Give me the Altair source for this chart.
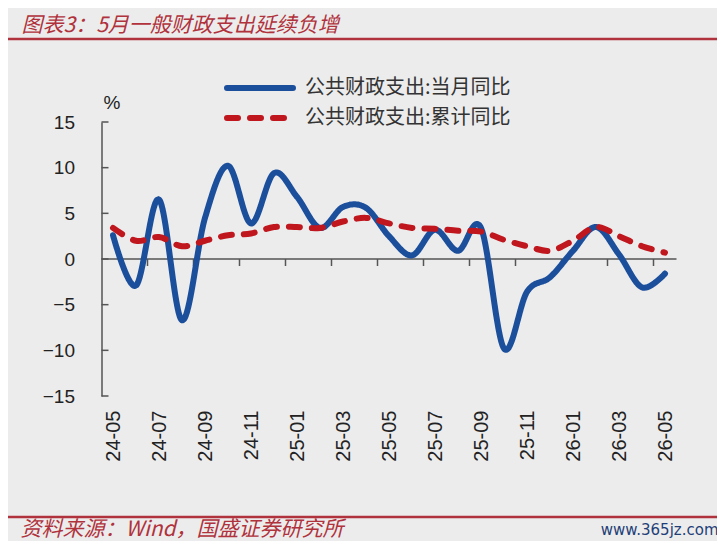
import json
import altair as alt
import pandas as pd

# ---------------- data ----------------
months = ["24-05", "24-06", "24-07", "24-08", "24-09", "24-10", "24-11", "24-12",
          "25-01", "25-02", "25-03", "25-04", "25-05", "25-06", "25-07", "25-08",
          "25-09", "25-10", "25-11", "25-12", "26-01", "26-02", "26-03", "26-04", "26-05"]
monthly = [2.6, -2.9, 6.5, -6.7, 4.5, 10.2, 3.9, 9.4, 6.8, 3.4, 5.7, 5.6, 2.5,
           0.4, 3.2, 0.9, 3.4, -9.8, -3.6, -2.0, 0.9, 3.5, 0.5, -3.1, -1.6]
cumulative = [3.4, 2.0, 2.4, 1.4, 2.0, 2.6, 2.8, 3.5, 3.5, 3.4, 4.1, 4.5, 3.9,
              3.4, 3.3, 3.1, 3.0, 2.1, 1.4, 0.9, 2.0, 3.5, 2.5, 1.4, 0.7]
y_ticks = [-15, -10, -5, 0, 5, 10, 15]
series_names = ["公共财政支出:当月同比", "公共财政支出:累计同比"]
title_text = "图表3：5月一般财政支出延续负增"
unit_text = "%"
source_text = "资料来源：Wind，国盛证券研究所"
site_text = "www.365jz.com"

# ---------------- styling ----------------
W, H = 575, 274
BLUE = "#1b4f9c"
RED = "#c0161e"
DARKRED = "#b0323c"
AXIS = "#555555"
BG = "#ececec"
NUM_FONT = "Liberation Sans"
CJK_FONT = "Noto Sans CJK SC"

idx = list(range(len(months)))
wide = pd.DataFrame({"idx": idx, "month": months,
                     series_names[0]: monthly, series_names[1]: cumulative})
long = wide.melt(id_vars=["idx", "month"], value_vars=series_names,
                 var_name="series", value_name="value")

x_scale = alt.Scale(domain=[-0.5, len(months) - 0.5], nice=False, zero=False)
y_scale = alt.Scale(domain=[-15, 15], nice=False)

label_expr = json.dumps(months) + "[datum.value]"

x_axis = alt.Axis(values=list(range(0, len(months), 2)), labelExpr=label_expr,
                  labelAngle=-90, domain=False, ticks=False, grid=False,
                  labelPadding=14, labelFontSize=20, labelFont=NUM_FONT,
                  labelColor="#222222", labelOverlap=False, labelFlush=False,
                  title=None)
y_axis = alt.Axis(values=y_ticks, domain=True, domainColor=AXIS, domainWidth=1.5,
                  ticks=False, grid=False, labelPadding=27, labelFontSize=19,
                  labelFont=NUM_FONT, labelColor="#222222", title=None)

color_scale = alt.Scale(domain=series_names, range=[BLUE, RED])
dash_scale = alt.Scale(domain=series_names, range=[[1, 0], [11, 12]])

color_enc = alt.Color("series:N", scale=color_scale, legend=None)
dash_enc = alt.StrokeDash("series:N", scale=dash_scale, legend=None)

lines = alt.Chart(long).mark_line(strokeWidth=6, interpolate="cardinal",
                                  strokeCap="round").encode(
    x=alt.X("idx:Q", scale=x_scale, axis=x_axis),
    y=alt.Y("value:Q", scale=y_scale, axis=y_axis),
    color=color_enc,
    strokeDash=dash_enc,
    order=alt.Order("idx:Q"),
)

zero_line = alt.Chart(pd.DataFrame({"z": [0]})).mark_rule(
    color=AXIS, strokeWidth=1.5).encode(y=alt.Y("z:Q", scale=y_scale))

last_idx = len(months) - 1
x_ticks = alt.Chart(wide).transform_filter(
    f"datum.idx % 2 == 1 && datum.idx < {last_idx}"
).transform_calculate(pos="datum.idx + 0.5").mark_rule(
    color=AXIS, strokeWidth=1.5, y2Offset=7).encode(
    x=alt.X("pos:Q", scale=x_scale),
    y=alt.datum(0),
    y2=alt.datum(0),
)

y_tick_marks = alt.Chart(pd.DataFrame({"v": y_ticks})).mark_rule(
    color=AXIS, strokeWidth=1.5).encode(
    y=alt.Y("v:Q", scale=y_scale), x=alt.value(0), x2=alt.value(7))

# ---------------- legend (drawn) ----------------
legend_df = pd.DataFrame({"series": series_names})
legend_rows_y = [-34, -4]
legend_layers = []
for name, ly in zip(series_names, legend_rows_y):
    one = alt.Chart(legend_df).transform_filter(
        alt.datum.series == name)
    legend_layers.append(
        one.mark_rule(strokeWidth=6, strokeCap="round").encode(
            x=alt.value(125.5), x2=alt.value(191.5), y=alt.value(ly),
            color=color_enc, strokeDash=dash_enc))
    legend_layers.append(
        one.mark_text(align="left", baseline="middle", font=CJK_FONT,
                      fontSize=20, color="#333333").encode(
            text="series:N", x=alt.value(203.5), y=alt.value(ly)))


def text_layer(txt, x, y, **kw):
    return alt.Chart(pd.DataFrame({"t": [txt]})).mark_text(**kw).encode(
        text="t:N", x=alt.value(x), y=alt.value(y))


title = text_layer(title_text, -80, -96, align="left", baseline="middle",
                   font=CJK_FONT, fontSize=21, fontStyle="italic", color=DARKRED)
unit = text_layer(unit_text, 10.5, -19, align="center", baseline="middle",
                  font=NUM_FONT, fontSize=19, color="#222222")
source = text_layer(source_text, -81, 408, align="left", baseline="middle",
                    font=CJK_FONT, fontSize=21, fontStyle="italic", color=DARKRED)
site = text_layer(site_text, 617, 408, align="right", baseline="middle",
                  font="DejaVu Sans", fontSize=15, color="#1f3f78")

top_rule = alt.Chart(pd.DataFrame({"a": [0]})).mark_rule(
    color=DARKRED, strokeWidth=2.5).encode(
    x=alt.value(-98), x2=alt.value(618), y=alt.value(-83))
bottom_rule = alt.Chart(pd.DataFrame({"a": [0]})).mark_rule(
    color=DARKRED, strokeWidth=2.5).encode(
    x=alt.value(-98), x2=alt.value(618), y=alt.value(395))

chart = alt.layer(
    zero_line, x_ticks, y_tick_marks, lines, *legend_layers,
    title, unit, source, site, top_rule, bottom_rule,
).properties(
    width=W, height=H,
    autosize=alt.AutoSizeParams(type="none"),
    padding={"left": 93.5, "top": 114, "right": 40.5, "bottom": 145},
    background=BG,
).configure_view(stroke=None)

chart.save("out.html", embed_options={"renderer": "svg", "actions": False})
